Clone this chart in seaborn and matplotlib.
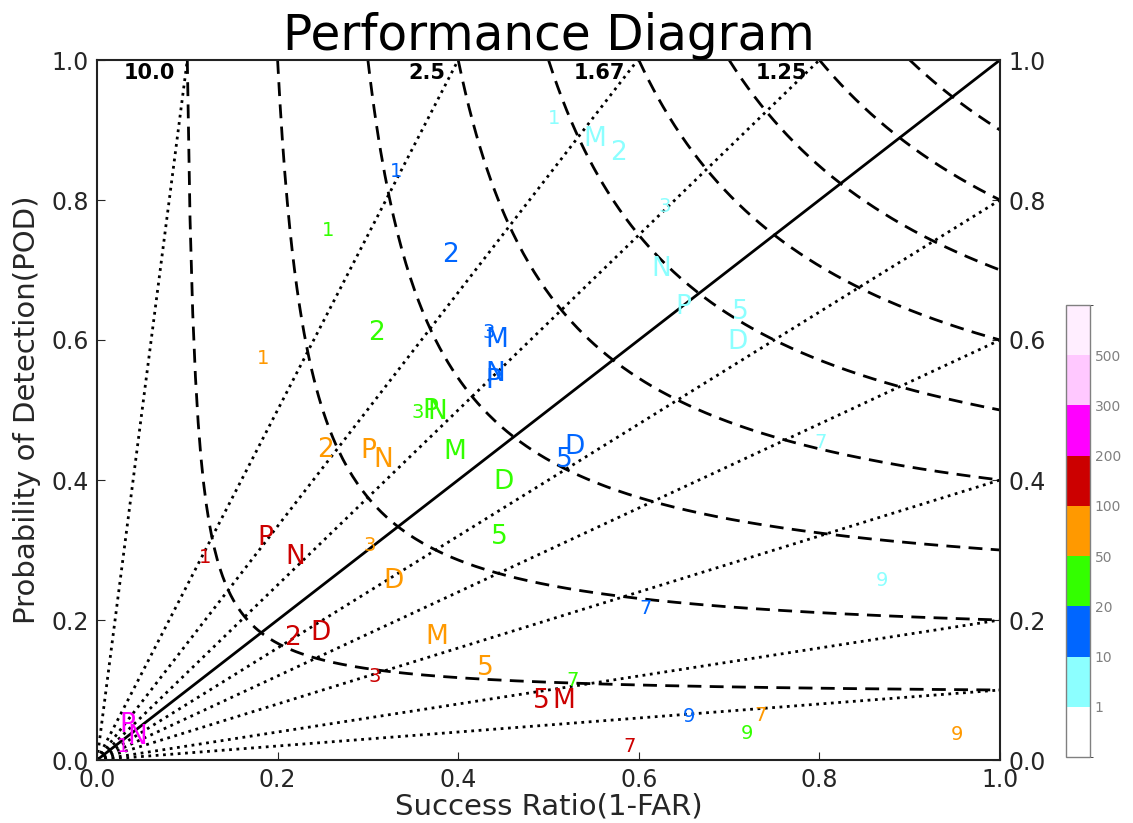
import numpy as np
import pandas as pd
import seaborn as sns
import matplotlib
matplotlib.use("Agg")
import matplotlib.pyplot as plt
from matplotlib.colors import ListedColormap, BoundaryNorm
from matplotlib.cm import ScalarMappable

# threshold classes shown in the colour bar
thresholds = [1, 10, 20, 50, 100, 200, 300, 500]
bar_colors = ["#FFFFFF", "#8CFFFF", "#0066FF", "#33FF00", "#FF9900",
              "#CC0000", "#FF00FF", "#FFC8FF", "#FFEEFF"]

# CSI contours and frequency-bias lines
csi_levels = [0.1, 0.2, 0.3, 0.4, 0.5, 0.6, 0.7, 0.8, 0.9]
bias_levels = [0.1, 0.2, 0.4, 0.6, 0.8, 1.25, 1.67, 2.5, 10.0]
bias_labels = ["10.0", "2.5", "1.67", "1.25"]
bias_label_values = [10.0, 2.5, 1.67, 1.25]

# text markers: label, success ratio, POD, threshold
mark_text = ["1", "M", "2", "3", "N", "P", "5", "D", "7", "9",
             "1", "2", "3", "M", "N", "P", "5", "D", "7", "9",
             "1", "2", "3", "P", "N", "M", "D", "5", "7", "9",
             "1", "2", "P", "N", "3", "D", "M", "5", "7", "9",
             "1", "P", "N", "2", "D", "3", "5", "M", "7",
             "P", "1", "N"]
mark_sr = [0.506, 0.551, 0.578, 0.629, 0.625, 0.649, 0.712, 0.709, 0.801, 0.869,
           0.331, 0.392, 0.434, 0.443, 0.441, 0.439, 0.518, 0.529, 0.607, 0.656,
           0.256, 0.310, 0.355, 0.369, 0.377, 0.396, 0.450, 0.446, 0.527, 0.720,
           0.184, 0.253, 0.300, 0.317, 0.302, 0.328, 0.376, 0.430, 0.735, 0.952,
           0.120, 0.186, 0.219, 0.217, 0.247, 0.308, 0.492, 0.517, 0.590,
           0.034, 0.029, 0.045]
mark_pod = [0.917, 0.887, 0.867, 0.791, 0.701, 0.647, 0.640, 0.597, 0.453, 0.256,
            0.841, 0.721, 0.610, 0.600, 0.552, 0.541, 0.428, 0.447, 0.216, 0.062,
            0.756, 0.610, 0.496, 0.499, 0.497, 0.440, 0.397, 0.319, 0.113, 0.038,
            0.574, 0.443, 0.441, 0.428, 0.307, 0.256, 0.176, 0.131, 0.063, 0.036,
            0.289, 0.317, 0.290, 0.174, 0.181, 0.119, 0.084, 0.084, 0.019,
            0.050, 0.019, 0.033]
mark_thr = [1] * 10 + [10] * 10 + [20] * 10 + [50] * 10 + [100] * 9 + [200] * 3

df = pd.DataFrame({"text": mark_text, "sr": mark_sr, "pod": mark_pod, "thr": mark_thr})
small_chars = ["1", "3", "7", "9"]

sns.set_style("ticks")
plt.rcParams["font.family"] = ["DejaVu Sans"]

fig = plt.figure(figsize=(11.33, 8.23), dpi=100)
ax = fig.add_axes([97 / 1133, 63 / 823, 903 / 1133, 700 / 823])

# CSI curves
for c in csi_levels:
    s = np.linspace(c, 1.0, 300)
    p = 1.0 / (1.0 / c + 1.0 - 1.0 / s)
    sns.lineplot(x=s, y=p, ax=ax, color="black", lw=2, sort=False,
                 estimator=None, dashes=False, linestyle=(0, (5, 3)))

# bias lines
for b in bias_levels:
    end = (1.0, b) if b <= 1 else (1.0 / b, 1.0)
    sns.lineplot(x=[0, end[0]], y=[0, end[1]], ax=ax, color="black", lw=2,
                 linestyle=":", sort=False, estimator=None)
sns.lineplot(x=[0, 1], y=[0, 1], ax=ax, color="black", lw=2, sort=False, estimator=None)

for lab, b in zip(bias_labels, bias_label_values):
    ax.text(1.0 / b - 0.014, 0.982, lab, ha="right", va="center",
            fontsize=15, fontweight="bold", color="black")

color_of = dict(zip([1, 10, 20, 50, 100, 200], bar_colors[1:7]))
for _, r in df.iterrows():
    size = 14 if r["text"] in small_chars else 19
    ax.text(r["sr"], r["pod"], r["text"], ha="center", va="center",
            fontsize=size, color=color_of[r["thr"]])

ax.set_xlim(0, 1)
ax.set_ylim(0, 1)
ticks = np.arange(0, 1.01, 0.2)
ax.set_xticks(ticks)
ax.set_yticks(ticks)
ax.set_xticklabels([f"{t:.1f}" for t in ticks])
ax.set_yticklabels([f"{t:.1f}" for t in ticks])
ax.tick_params(axis="both", direction="in", length=6, labelsize=17,
               labelcolor="#262626", pad=6)
ax.tick_params(axis="y", right=True, labelright=True)
for sp in ax.spines.values():
    sp.set_visible(True)
    sp.set_linewidth(1.5)
    sp.set_color("#222222")

ax.set_xlabel("Success Ratio(1-FAR)", fontsize=21, color="#262626", labelpad=0)
ax.set_ylabel("Probability of Detection(POD)", fontsize=21, color="#262626", labelpad=7)
ax.set_title("Performance Diagram", fontsize=35, pad=4, color="black")

# colour bar
cax = fig.add_axes([1066 / 1133, 66 / 823, 24 / 1133, 452 / 823])
bounds = [0] + thresholds + [1000]
cmap = ListedColormap(bar_colors)
norm = BoundaryNorm(bounds, cmap.N)
cb = fig.colorbar(ScalarMappable(norm=norm, cmap=cmap), cax=cax,
                  boundaries=bounds, spacing="uniform", ticks=thresholds)
cb.set_ticklabels([str(t) for t in thresholds])
cb.outline.set_edgecolor("gray")
cb.outline.set_linewidth(1)
cax.tick_params(labelsize=10, colors="gray", labelcolor="gray", length=4, direction="in")

fig.savefig("out.png", dpi=100)
